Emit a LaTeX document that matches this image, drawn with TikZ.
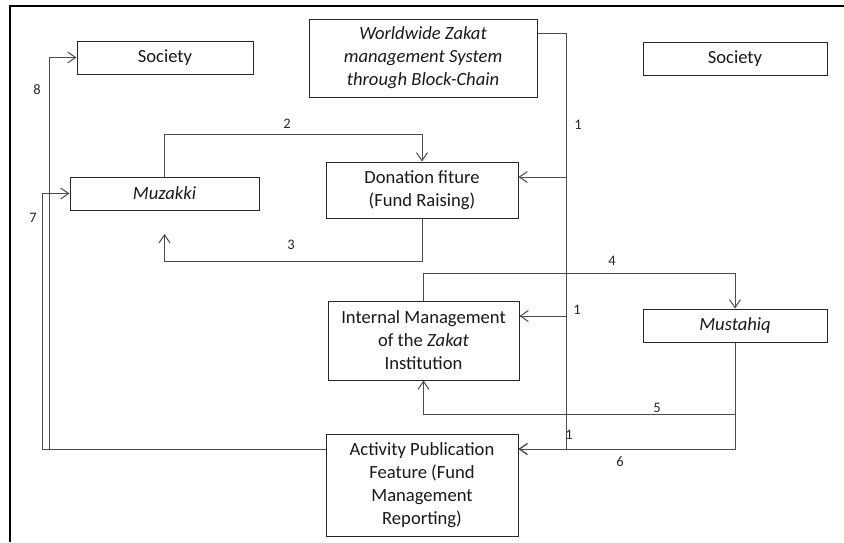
\documentclass[tikz,border=0pt]{standalone}
\usepackage{fontspec}
\setmainfont{Carlito}
\usetikzlibrary{arrows.meta}
\begin{document}
\begin{tikzpicture}[x=1pt,y=-1pt,
  box/.style={draw=black!85,line width=1pt,rectangle,inner sep=0pt,align=center,
    font=\fontsize{18.6}{23}\selectfont,text=black!90},
  conn/.style={draw=black!70,line width=1pt},
  arr/.style={conn,-{Straight Barb[length=8pt,width=11pt,line width=1pt]}},
  lab/.style={font=\fontsize{14.5}{16}\selectfont,text=black!85,inner sep=0pt}]
\useasboundingbox (0,0) rectangle (844,542);
\draw[black,line width=1.3pt] (10,542) -- (10,6) -- (844,6);

\node[box,minimum width=176,minimum height=33] (socl) at (165,57.5) {Society};
\node[box,minimum width=228,minimum height=78] (ww) at (423,58)
  {\itshape Worldwide Zakat\\\itshape management System\\\itshape through Block-Chain};
\node[box,minimum width=184,minimum height=33] (socr) at (735,58.5) {Society};
\node[box,minimum width=189,minimum height=33] (muz) at (164.5,193.5) {\itshape Muzakki};
\node[box,minimum width=192,minimum height=56] (don) at (422,190) {Donation fiture\\(Fund Raising)};
\node[box,minimum width=191,minimum height=79] (int) at (423.5,340.5)
  {Internal Management\\of the \textit{Zakat}\\Institution};
\node[box,minimum width=184,minimum height=33] (mus) at (735,325.5) {\itshape Mustahiq};
\node[box,minimum width=192,minimum height=102] (act) at (422,485)
  {Activity Publication\\Feature (Fund\\Management\\Reporting)};

% bus 1
\coordinate (bt) at (566,33);
\coordinate (bd) at (566,177);
\coordinate (bi) at (566,316);
\coordinate (ba) at (566,449);
\draw[conn] (ww.east|-bt) -- (bt) -- (ba);
\draw[arr] (bd) -- (don.east|-bd);
\draw[arr] (bi) -- (int.east|-bi);
\draw[arr] (ba) -- (act.east|-ba);
\node[lab] (l1a) at (578,125) {1};
\node[lab] (l1b) at (577,310) {1};
\node[lab] (l1c) at (569,435) {1};

% 2
\coordinate (t2) at (164.5,134);
\draw[arr] (muz.north) -- (t2) -| (don.north);
\node[lab] (l2) at (287,124) {2};

% 3
\coordinate (b3) at (422,261);
\coordinate (e3) at (164.5,234);
\draw[arr] (don.south) -- (b3) -| (e3);
\node[lab] (l3) at (291,245) {3};

% 4
\coordinate (t4) at (423.5,273);
\draw[arr] (int.north) -- (t4) -| (mus.north);
\node[lab] (l4) at (612,261) {4};

% 5
\coordinate (b5) at (735,414);
\draw[arr] (mus.south) -- (b5) -| (int.south);
\node[lab] (l5) at (657,408) {5};

% 6
\draw[arr] (mus.south) |- (act.east|-ba);
\node[lab] (l6) at (620,462) {6};

% 7 and 8
\coordinate (c7) at (42,449);
\coordinate (c8) at (49,449);
\draw[arr] (act.west|-ba) -- (c7) |- (muz.west);
\draw[arr] (act.west|-ba) -- (c8) |- (socl.west);
\node[lab] (l7) at (33,218) {7};
\node[lab] (l8) at (37,90) {8};
\end{tikzpicture}
\end{document}
